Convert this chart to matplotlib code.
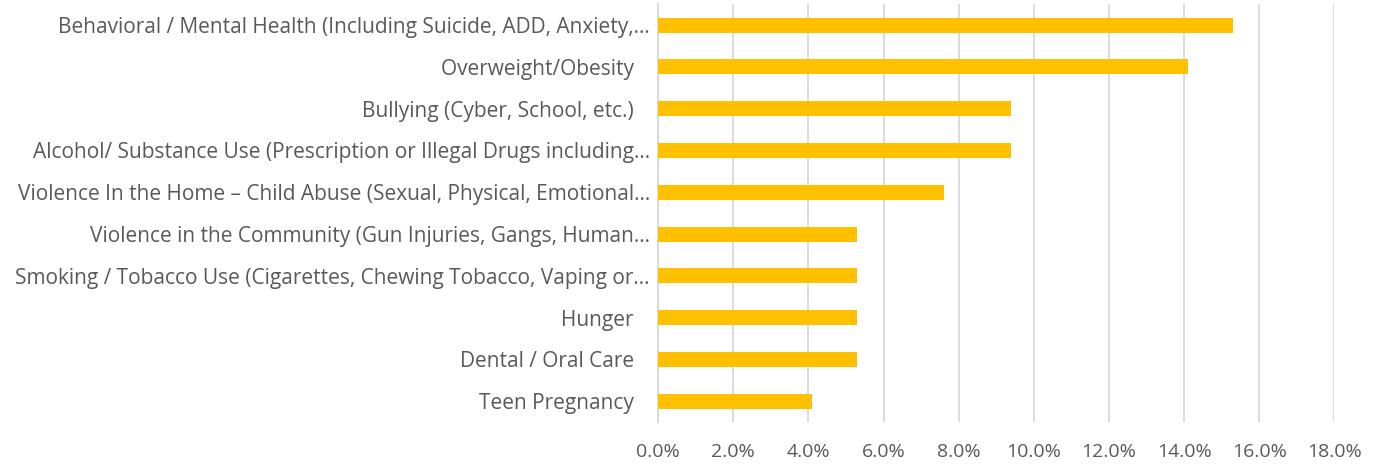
import matplotlib.pyplot as plt
from matplotlib.ticker import PercentFormatter

categorias = [
    "Behavioral / Mental Health (Including Suicide, ADD, Anxiety,\u2026",
    "Overweight/Obesity   ",
    "Bullying (Cyber, School, etc.)   ",
    "Alcohol/ Substance Use (Prescription or Illegal Drugs including\u2026",
    "Violence In the Home \u2013 Child Abuse (Sexual, Physical, Emotional\u2026",
    "Violence in the Community (Gun Injuries, Gangs, Human\u2026",
    "Smoking / Tobacco Use (Cigarettes, Chewing Tobacco, Vaping or\u2026",
    "Hunger   ",
    "Dental / Oral Care   ",
    "Teen Pregnancy   ",
]
valores = [15.3, 14.1, 9.4, 9.4, 7.6, 5.3, 5.3, 5.3, 5.3, 4.1]
ticks_x = [0, 2, 4, 6, 8, 10, 12, 14, 16, 18]

gris_texto = "#595959"
plt.rcParams['font.family'] = ['Open Sans', 'DejaVu Sans']

fig = plt.figure(figsize=(13.77, 4.66), dpi=100)
ax = fig.add_axes([0.478, 0.094, 0.491, 0.897])

pos = list(range(len(categorias)))
ax.barh(pos, valores, height=0.36, color="#FFC000", zorder=3)

ax.set_ylim(len(categorias) - 0.5, -0.5)
ax.set_yticks(pos)
ax.set_yticklabels(categorias)
ax.set_xlim(0, 18)
ax.set_xticks(ticks_x)
ax.xaxis.set_major_formatter(PercentFormatter(decimals=1))

ax.grid(axis="x", color="#D9D9D9", linewidth=1.3, zorder=0)
for s in ["top", "right", "bottom"]:
    ax.spines[s].set_visible(False)
ax.spines["left"].set_color("#D9D9D9")
ax.spines["left"].set_linewidth(1.3)

ax.tick_params(axis="both", length=0, labelcolor=gris_texto)
ax.tick_params(axis="y", labelsize=15, pad=6)
ax.tick_params(axis="x", labelsize=14, pad=15)

fig.savefig("out.png", dpi=100)
